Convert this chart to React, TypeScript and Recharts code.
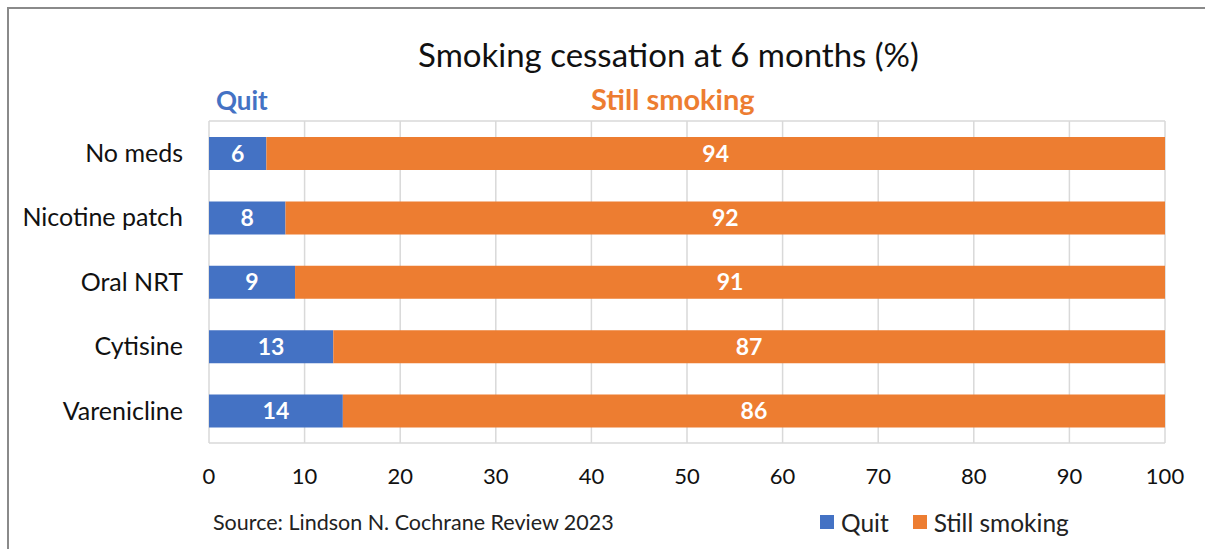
import { BarChart, Bar, XAxis, YAxis, CartesianGrid, LabelList } from "recharts";

const categories = ["No meds", "Nicotine patch", "Oral NRT", "Cytisine", "Varenicline"];
const quit = [6, 8, 9, 13, 14];
const stillSmoking = [94, 92, 91, 87, 86];
const xTicks = [0, 10, 20, 30, 40, 50, 60, 70, 80, 90, 100];

const data = categories.map((name, i) => ({
  name,
  quit: quit[i],
  still: stillSmoking[i],
}));

const FONT = "Lato, 'Open Sans', sans-serif";
const BLUE = "#4472C4";
const ORANGE = "#ED7D31";

function LegendItem({ color, text, gap }: { color: string; text: string; gap: number }) {
  return (
    <span style={{ display: "inline-flex", alignItems: "center", marginRight: gap }}>
      <span style={{ width: 14, height: 14, background: color, marginRight: 7 }} />
      <span>{text}</span>
    </span>
  );
}

export default function App() {
  return (
    <div
      style={{
        position: "absolute",
        left: 0,
        top: 0,
        width: 1205,
        height: 549,
        background: "#fff",
        overflow: "hidden",
      }}
    >
      <div
        style={{
          position: "absolute",
          left: 7,
          top: 7,
          width: 1210,
          height: 560,
          borderTop: "2px solid #8a8a8a",
          borderLeft: "2px solid #8a8a8a",
        }}
      />
      <div
        style={{
          position: "absolute",
          left: 0,
          width: 1337,
          top: 34,
          textAlign: "center",
          fontFamily: FONT,
          fontSize: 33,
          color: "#111",
        }}
      >
        Smoking cessation at 6 months (%)
      </div>
      <div
        style={{
          position: "absolute",
          left: 216,
          top: 84,
          fontFamily: FONT,
          fontWeight: 700,
          fontSize: 26,
          color: BLUE,
        }}
      >
        Quit
      </div>
      <div
        style={{
          position: "absolute",
          left: 591,
          top: 81,
          fontFamily: FONT,
          fontWeight: 700,
          fontSize: 29,
          color: ORANGE,
        }}
      >
        Still smoking
      </div>
      <div
        style={{
          position: "absolute",
          left: 213,
          top: 509,
          fontFamily: FONT,
          fontSize: 21.5,
          color: "#222",
        }}
      >
        Source: Lindson N. Cochrane Review 2023
      </div>
      <div
        style={{
          position: "absolute",
          left: 820,
          top: 505,
          fontFamily: FONT,
          fontSize: 24.5,
          color: "#222",
          whiteSpace: "nowrap",
        }}
      >
        <LegendItem color={BLUE} text="Quit" gap={24} />
        <LegendItem color={ORANGE} text="Still smoking" gap={0} />
      </div>
      <BarChart
        width={1205}
        height={549}
        data={data}
        layout="vertical"
        barSize={33}
        margin={{ top: 121, right: 40, left: 9, bottom: 66 }}
        style={{ position: "absolute", left: 0, top: 0 }}
      >
        <CartesianGrid
          stroke="#d9d9d9"
          strokeWidth={1.5}
          horizontalCoordinatesGenerator={({ offset }: any) => [offset.top, offset.top + offset.height]}
        />
        <XAxis
          type="number"
          domain={[0, 100]}
          ticks={xTicks}
          axisLine={false}
          tickLine={false}
          tickSize={0}
          tickMargin={25}
          height={40}
          tick={{ fontFamily: FONT, fontSize: 22, fill: "#111" }}
        />
        <YAxis
          type="category"
          dataKey="name"
          width={200}
          axisLine={false}
          tickLine={false}
          tickSize={0}
          tickMargin={26}
          tick={{ fontFamily: FONT, fontSize: 25, fill: "#111" }}
        />
        <Bar dataKey="quit" name="Quit" stackId="a" fill={BLUE} isAnimationActive={false}>
          <LabelList
            dataKey="quit"
            position="center"
            fill="#fff"
            style={{ fontFamily: FONT, fontSize: 23, fontWeight: 700 }}
          />
        </Bar>
        <Bar dataKey="still" name="Still smoking" stackId="a" fill={ORANGE} isAnimationActive={false}>
          <LabelList
            dataKey="still"
            position="center"
            fill="#fff"
            style={{ fontFamily: FONT, fontSize: 23, fontWeight: 700 }}
          />
        </Bar>
      </BarChart>
    </div>
  );
}
